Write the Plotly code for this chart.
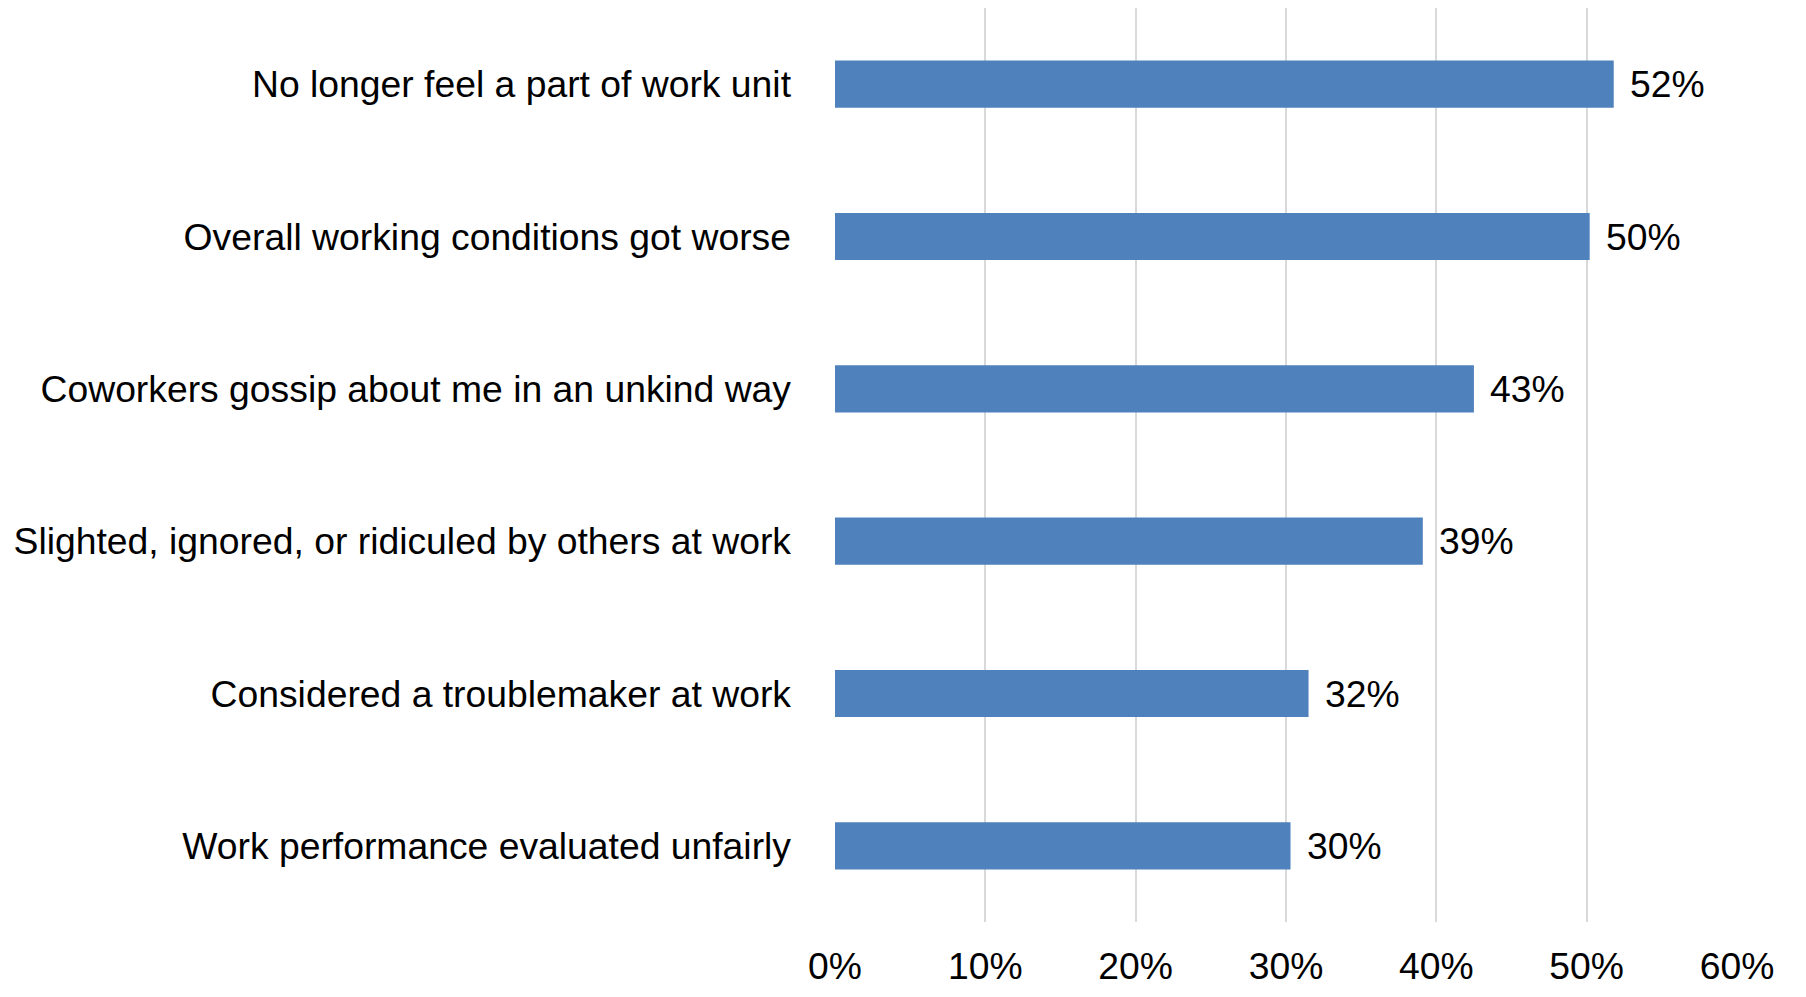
import plotly.graph_objects as go

categories = [
    "No longer feel a part of work unit",
    "Overall working conditions got worse",
    "Coworkers gossip about me in an unkind way",
    "Slighted, ignored, or ridiculed by others at work",
    "Considered a troublemaker at work",
    "Work performance evaluated unfairly",
]
values = [0.518, 0.502, 0.425, 0.391, 0.315, 0.303]
labels = ["52%", "50%", "43%", "39%", "32%", "30%"]
tick_vals = [0, 0.1, 0.2, 0.3, 0.4, 0.5, 0.6]
tick_text = ["0%", "10%", "20%", "30%", "40%", "50%", "60%"]

FONT = "Arial"
FS = 37.3

fig = go.Figure(
    go.Bar(
        y=categories,
        x=values,
        orientation="h",
        marker=dict(color="#4F81BD", line=dict(width=0)),
        hoverinfo="skip",
    )
)

for cat, val, lab in zip(categories, values, labels):
    fig.add_annotation(
        x=val, y=cat, text=lab, showarrow=False,
        xanchor="left", yanchor="middle", xshift=14,
        font=dict(family=FONT, size=FS, color="#000000"),
    )

fig.update_layout(
    width=1798,
    height=989,
    margin=dict(l=826.5, r=68.5, t=0.4, b=75.4),
    paper_bgcolor="white",
    plot_bgcolor="white",
    bargap=0.69,
    showlegend=False,
    font=dict(family=FONT, size=FS, color="#000000"),
    shapes=[
        dict(type="line", xref="paper", yref="paper",
             x0=1.0733, x1=1.0733, y0=-0.1, y1=1.02,
             line=dict(color="#A6A6A6", width=2)),
    ],
)

fig.update_xaxes(
    range=[0, 0.6],
    tickvals=tick_vals,
    ticktext=tick_text,
    showgrid=True,
    gridcolor="#D9D9D9",
    gridwidth=1.5,
    zeroline=False,
    showline=False,
    ticks="",
    ticklabelstandoff=19,
    tickfont=dict(family=FONT, size=FS, color="#000000"),
)
fig.update_yaxes(
    categoryorder="array",
    categoryarray=categories[::-1],
    autorange=True,
    showgrid=False,
    zeroline=False,
    showline=False,
    ticks="",
    ticklabelstandoff=43,
    tickfont=dict(family=FONT, size=FS, color="#000000"),
)

fig.write_html("out.html")
